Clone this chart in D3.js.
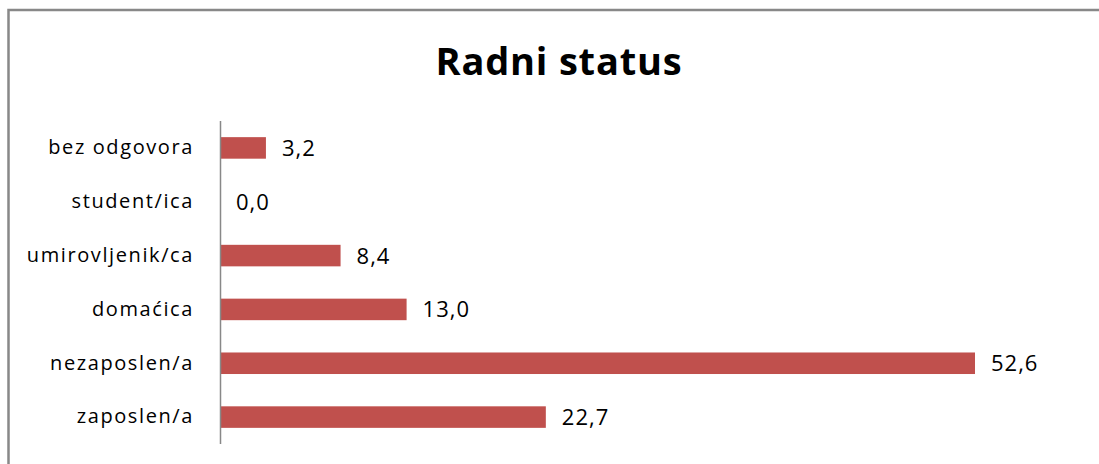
<!DOCTYPE html>
<html>
<head>
<meta charset="utf-8">
<script src="https://cdn.jsdelivr.net/npm/d3@7"></script>
<style>
  html, body { margin: 0; background: #fff; overflow: hidden; }
  svg { display: block; }
  svg text { font-family: "Open Sans", Lato, sans-serif; }
</style>
</head>
<body>
<div id="chart"></div>
<script>
// chart data (top to bottom as drawn)
let categories = ["bez odgovora", "student/ica", "umirovljenik/ca", "domaćica", "nezaposlen/a", "zaposlen/a"];
let values = [3.2, 0.0, 8.4, 13.0, 52.6, 22.7];
let title = "Radni status";

let width = 1099, height = 464;
let margin = { top: 121, left: 220, bottom: 20 };

let svg = d3.select("#chart")
  .append("svg")
  .attr("width", width)
  .attr("height", height);

// outer frame (right and bottom edges are cut off)
svg.append("path")
  .attr("d", "M8.5," + height + "V10H" + width)
  .attr("fill", "none")
  .attr("stroke", "#888888")
  .attr("stroke-width", 2.5);

svg.append("text")
  .attr("x", 559)
  .attr("y", 75)
  .attr("text-anchor", "middle")
  .style("font-size", "38px")
  .style("font-weight", "bold")
  .style("letter-spacing", "0.8px")
  .text(title);

let x = d3.scaleLinear()
  .domain([0, 52.6])
  .range([margin.left, 975]);

let y = d3.scaleBand()
  .domain(categories)
  .range([margin.top, 444])
  .paddingInner(0.6)
  .paddingOuter(0.3);

// bars
svg.append("g")
  .selectAll("rect")
  .data(values)
  .enter()
  .append("rect")
  .attr("x", x(0))
  .attr("y", (d, i) => y(categories[i]))
  .attr("width", (d) => x(d) - x(0))
  .attr("height", y.bandwidth())
  .attr("fill", "#C0504D");

// value labels
svg.append("g")
  .selectAll("text")
  .data(values)
  .enter()
  .append("text")
  .attr("x", (d) => x(d) + 16)
  .attr("y", (d, i) => y(categories[i]) + y.bandwidth() / 2)
  .attr("dy", "0.36em")
  .style("font-size", "22px")
  .style("letter-spacing", "1px")
  .style("fill", "#000")
  .text((d) => d.toFixed(1).replace(".", ","));

// category axis
let yAxis = svg.append("g")
  .attr("transform", "translate(" + margin.left + ",0)")
  .call(d3.axisLeft(y).tickSize(0).tickPadding(26));

yAxis.select(".domain")
  .attr("stroke", "#888888")
  .attr("stroke-width", 1.5)
  .attr("d", "M0.5,121V444");

yAxis.selectAll("text")
  .style("font-size", "20px")
  .style("letter-spacing", "1.6px")
  .style("font-family", "'Open Sans', Lato, sans-serif")
  .style("fill", "#000");
</script>
</body>
</html>
